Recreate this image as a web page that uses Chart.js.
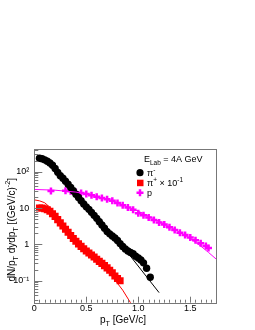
<!DOCTYPE html>
<html>
<head>
<meta charset="utf-8">
<script src="https://cdn.jsdelivr.net/npm/chart.js@4.4.1/dist/chart.umd.min.js"></script>
<style>
  html, body { margin: 0; padding: 0; background: #fff; }
  #wrap { width: 255px; height: 330px; position: relative; }
</style>
</head>
<body>
<div id="wrap"><canvas id="spectra"></canvas></div>
<script>
// pi- spectrum
const piMinusPt = [0.05, 0.075, 0.1, 0.125, 0.15, 0.175, 0.2, 0.225, 0.25, 0.275, 0.3, 0.325, 0.35, 0.375,
    0.4, 0.425, 0.45, 0.475, 0.5, 0.525, 0.55, 0.575, 0.6, 0.625, 0.65, 0.675, 0.7, 0.725, 0.75, 0.775,
    0.8, 0.825, 0.85, 0.875, 0.9, 0.925, 0.95, 0.975, 1.0, 1.025, 1.05, 1.08, 1.115];
const piMinusY = [235, 228, 212, 195, 175, 150, 123, 96, 78, 66, 55, 45, 37, 30,
    24, 19.5, 16, 13, 10.8, 9.2, 7.6, 6.3, 5.2, 4.2, 3.4, 2.8, 2.25, 1.95, 1.7, 1.5,
    1.28, 1.05, 0.88, 0.75, 0.66, 0.6, 0.55, 0.47, 0.42, 0.37, 0.31, 0.22, 0.125];

// pi+ spectrum, already scaled by 10^-1
const piPlusPt = [0.05, 0.075, 0.1, 0.125, 0.15, 0.175, 0.2, 0.225, 0.25, 0.275, 0.3, 0.325, 0.35, 0.375,
    0.4, 0.425, 0.45, 0.475, 0.5, 0.525, 0.55, 0.575, 0.6, 0.625, 0.65, 0.675, 0.7, 0.725, 0.75, 0.775,
    0.8, 0.825];
const piPlusY = [10, 10, 9.6, 9.0, 8.2, 7.0, 5.9, 4.8, 3.9, 3.2, 2.6, 2.15, 1.75, 1.45,
    1.22, 1.03, 0.88, 0.76, 0.66, 0.58, 0.51, 0.45, 0.39, 0.34, 0.30, 0.26, 0.225, 0.195, 0.165, 0.135,
    0.115, 0.1];

// protons
const protonPt = [0.16, 0.3, 0.35, 0.4, 0.45, 0.5, 0.55, 0.6, 0.65, 0.7, 0.75, 0.8, 0.85, 0.9, 0.95,
    1.0, 1.05, 1.1, 1.15, 1.2, 1.25, 1.3, 1.35, 1.4, 1.45, 1.5, 1.55, 1.6, 1.65, 1.675];
const protonY = [29.5, 30, 28.8, 27, 25.8, 24.5, 22.5, 20.5, 19, 17.5, 16, 13.8, 12, 10.4, 9,
    7.2, 6.3, 5.5, 4.7, 4.0, 3.5, 2.95, 2.5, 2.1, 1.8, 1.55, 1.3, 1.08, 0.9, 0.8];

// fit curves
const fitPiMinusPt = [0.6, 0.9, 1.2];
const fitPiMinusY = [6.5, 0.58, 0.047];
const fitPiPlusPt = [0.0, 0.05, 0.1, 0.15, 0.2, 0.3, 0.4, 0.5, 0.6, 0.7, 0.75, 0.85, 0.95];
const fitPiPlusY = [16.8, 15.8, 14, 10.5, 6.8, 3.0, 1.4, 0.7, 0.37, 0.2, 0.13, 0.055, 0.019];
const fitProtonPt = [0.0, 0.2, 0.4, 0.6, 0.8, 1.0, 1.2, 1.4, 1.5, 1.6, 1.675, 1.76];
const fitProtonY = [32.5, 31, 27.5, 21, 14, 8.2, 4.3, 2.15, 1.45, 0.9, 0.6, 0.37];

const xRange = [0, 1.754];
const yRange = [0.0248, 422];
const yTickValues = [0.1, 1, 10, 100];
const yTickText = ['10\u207B\u00B9', '1', '10', '10\u00B2'];

const FONT = '"Liberation Sans", Arial, sans-serif';

function pts(xs, ys) {
    return xs.map((x, i) => ({x: x, y: ys[i]}));
}

// draws text pieces: mode 0 normal, 1 subscript, 2 superscript
function richText(ctx, parts, x, y, size, dryRun) {
    let cx = x;
    for (const [t, m] of parts) {
        const fs = m ? size * 0.72 : size;
        ctx.font = fs + 'px ' + FONT;
        const dy = m === 1 ? size * 0.32 : (m === 2 ? -size * 0.42 : 0);
        if (!dryRun) ctx.fillText(t, cx, y + dy);
        cx += ctx.measureText(t).width;
    }
    return cx - x;
}

const rootStyle = {
    id: 'rootStyle',
    afterDraw(chart) {
        const ctx = chart.ctx;
        const a = chart.chartArea;
        const x = chart.scales.x;
        const y = chart.scales.y;
        ctx.save();
        ctx.strokeStyle = '#777';
        ctx.lineWidth = 1;
        ctx.strokeRect(Math.round(a.left) + 0.5, Math.round(a.top) + 0.5,
            Math.round(a.right - a.left), Math.round(a.bottom - a.top));

        ctx.beginPath();
        for (let i = 0; i * 0.05 <= x.max + 1e-9; i++) {
            const px = Math.round(x.getPixelForValue(i * 0.05)) + 0.5;
            const len = i % 10 === 0 ? 6 : 3;
            ctx.moveTo(px, a.bottom);
            ctx.lineTo(px, a.bottom - len);
        }
        for (let d = -2; d <= 2; d++) {
            for (let k = 1; k <= 9; k++) {
                const v = k * Math.pow(10, d);
                if (v < y.min || v > y.max) continue;
                const py = Math.round(y.getPixelForValue(v)) + 0.5;
                const len = k === 1 ? 8 : 4;
                ctx.moveTo(a.left, py);
                ctx.lineTo(a.left + len, py);
            }
        }
        ctx.stroke();

        ctx.fillStyle = '#000';
        ctx.textBaseline = 'alphabetic';
        ctx.textAlign = 'left';

        // x title, right aligned
        const xTitle = [['p', 0], ['T', 1], [' [GeV/c]', 0]];
        const xw = richText(ctx, xTitle, 0, 0, 10, true);
        richText(ctx, xTitle, 146 - xw, 322.5, 10);

        // y title, rotated
        const yTitle = [['dN/p', 0], ['T', 1], [' dydp', 0], ['T', 1], [' [(GeV/c)', 0], ['-2', 2], [']', 0]];
        const yw = richText(ctx, yTitle, 0, 0, 10, true);
        ctx.save();
        ctx.translate(14.5, 178);
        ctx.rotate(-Math.PI / 2);
        richText(ctx, yTitle, -yw, 0, 10);
        ctx.restore();

        // legend
        richText(ctx, [['E', 0], ['Lab', 1], [' = 4A GeV', 0]], 144, 162, 9);

        ctx.fillStyle = '#000';
        ctx.beginPath();
        ctx.arc(140, 172.7, 3.6, 0, Math.PI * 2);
        ctx.fill();
        richText(ctx, [['\u03C0', 0], ['-', 2]], 147, 175.8, 9);

        ctx.fillStyle = '#ff0000';
        ctx.fillRect(137, 179.7, 6.5, 6.5);
        ctx.fillStyle = '#000';
        richText(ctx, [['\u03C0', 0], ['+', 2], [' \u00D7 10', 0], ['-1', 2]], 147, 185.8, 9);

        ctx.strokeStyle = '#ff00ff';
        ctx.lineWidth = 2.5;
        ctx.beginPath();
        ctx.moveTo(136.5, 192.7); ctx.lineTo(143.5, 192.7);
        ctx.moveTo(140, 189.2); ctx.lineTo(140, 196.2);
        ctx.stroke();
        richText(ctx, [['p', 0]], 147, 195.8, 9);

        ctx.restore();
    }
};

new Chart(document.getElementById('spectra'), {
    type: 'scatter',
    data: {
        datasets: [
            {
                label: 'fit pi-',
                data: pts(fitPiMinusPt, fitPiMinusY),
                showLine: true, pointRadius: 0,
                borderColor: '#000', borderWidth: 1,
            },
            {
                label: 'fit pi+',
                data: pts(fitPiPlusPt, fitPiPlusY),
                showLine: true, pointRadius: 0,
                borderColor: '#ff0000', borderWidth: 1,
            },
            {
                label: 'fit p',
                data: pts(fitProtonPt, fitProtonY),
                showLine: true, pointRadius: 0,
                borderColor: '#ff00ff', borderWidth: 1,
            },
            {
                label: 'pi-',
                data: pts(piMinusPt, piMinusY),
                pointStyle: 'circle', pointRadius: 3.7,
                backgroundColor: '#000', borderColor: '#000', borderWidth: 0,
            },
            {
                label: 'pi+ x 10^-1',
                data: pts(piPlusPt, piPlusY),
                pointStyle: 'rect', pointRadius: 5,
                backgroundColor: '#ff0000', borderColor: '#ff0000', borderWidth: 0,
            },
            {
                label: 'p',
                data: pts(protonPt, protonY),
                pointStyle: 'cross', pointRadius: 3.5,
                backgroundColor: '#ff00ff', borderColor: '#ff00ff', borderWidth: 2.5,
            },
        ]
    },
    options: {
        responsive: true,
        maintainAspectRatio: false,
        animation: false,
        events: [],
        layout: {
            padding: {top: 149, right: 38.3, left: 0, bottom: 0}
        },
        plugins: {
            legend: {display: false},
            tooltip: {enabled: false},
        },
        scales: {
            x: {
                type: 'linear',
                min: xRange[0],
                max: xRange[1],
                grid: {display: false, drawTicks: false},
                border: {display: false},
                ticks: {
                    stepSize: 0.5,
                    includeBounds: false,
                    autoSkip: false,
                    maxRotation: 0,
                    padding: 0,
                    color: '#000',
                    font: {family: FONT, size: 9},
                },
                afterFit(scale) { scale.height = 27.3; },
            },
            y: {
                type: 'logarithmic',
                min: yRange[0],
                max: yRange[1],
                grid: {display: false, drawTicks: false},
                border: {display: false},
                ticks: {
                    autoSkip: false,
                    padding: 5,
                    color: '#000',
                    font: {family: FONT, size: 9},
                    callback(value) {
                        const i = yTickValues.findIndex(t => Math.abs(t - value) / t < 1e-6);
                        return i >= 0 ? yTickText[i] : '';
                    },
                },
                afterFit(scale) { scale.width = 34.3; },
            },
        },
    },
    plugins: [rootStyle],
});
</script>
</body>
</html>
